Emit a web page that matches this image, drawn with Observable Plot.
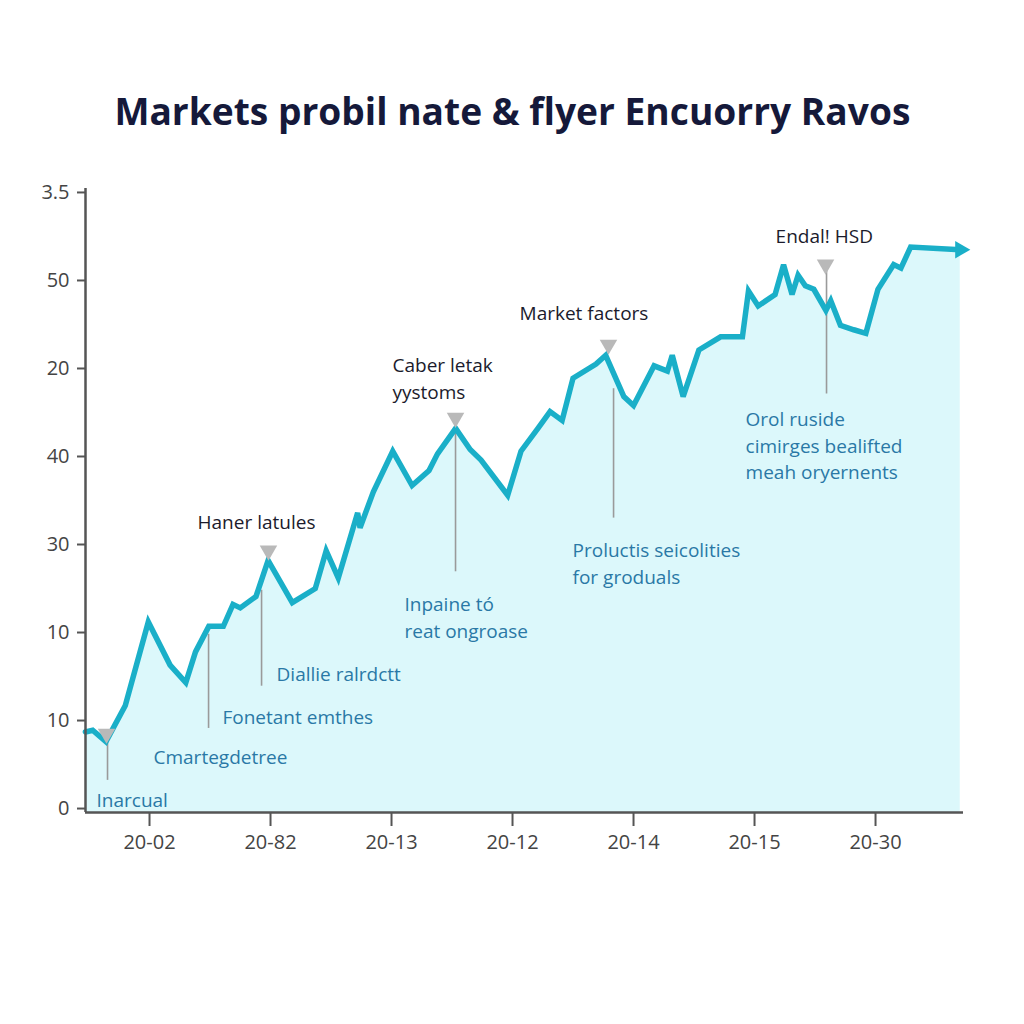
<!DOCTYPE html>
<html>
<head>
<meta charset="utf-8">
<script src="https://cdn.jsdelivr.net/npm/d3@7"></script>
<script src="https://cdn.jsdelivr.net/npm/@observablehq/plot@0.6"></script>
<style>
  html, body { margin: 0; padding: 0; background: #ffffff; }
  #wrap { width: 1024px; height: 1024px; position: relative; overflow: hidden; background: #fff; }
  #title { position: absolute; left: 0; top: 86px; width: 1024px; text-align: center;
    font-family: "Open Sans", "Noto Sans", sans-serif; font-weight: 700; font-size: 37px;
    color: #15193a; white-space: nowrap; line-height: 50px; }
  #title span { display: inline-block; transform-origin: center; }
  #chart { position: absolute; left: 0; top: 160px; }
</style>
</head>
<body>
<div id="wrap">
  <div id="title"><span id="tt">Markets probil nate &amp; flyer Encuorry Ravos</span></div>
  <div id="chart"></div>
</div>
<script>
// ---- data ----
const xTicks = [0, 10, 20, 30, 40, 50, 60];
const xLabels = ["20-02", "20-82", "20-13", "20-12", "20-14", "20-15", "20-30"];
const yTicks = [0, 1, 2, 3, 4, 5, 6, 7];
const yLabels = ["0", "10", "10", "30", "40", "20", "50", "3.5"];

const months = [-5.3, -4.7, -3.6, -2.0, -0.1, 1.7, 3.0, 3.8, 4.9, 6.1, 6.9, 7.5, 8.8, 9.8,
  11.8, 13.7, 14.6, 15.6, 17.2, 17.4, 18.5, 20.1, 21.7, 23.1, 23.8, 25.3, 26.5, 27.4, 29.6,
  30.7, 32.1, 33.1, 34.1, 35.0, 36.9, 37.7, 39.2, 40.0, 41.7, 42.8, 43.2, 44.1, 45.4, 47.2,
  49.0, 49.5, 50.3, 51.7, 52.4, 53.1, 53.6, 54.2, 54.9, 55.9, 56.3, 57.1, 58.2, 59.2, 60.2,
  61.5, 62.1, 62.9, 67.0];
const values = [0.87, 0.89, 0.76, 1.17, 2.12, 1.63, 1.43, 1.78, 2.07, 2.07, 2.32, 2.28, 2.41, 2.82,
  2.34, 2.50, 2.93, 2.62, 3.36, 3.19, 3.60, 4.06, 3.67, 3.84, 4.03, 4.32, 4.08, 3.96, 3.56,
  4.06, 4.32, 4.51, 4.41, 4.89, 5.05, 5.15, 4.68, 4.58, 5.03, 4.97, 5.15, 4.68, 5.21, 5.36,
  5.36, 5.88, 5.71, 5.84, 6.18, 5.84, 6.06, 5.94, 5.90, 5.66, 5.77, 5.49, 5.44, 5.40, 5.90,
  6.18, 6.14, 6.38, 6.35];

const markerX = [-3.55, 9.83, 25.29, 37.93, 55.87];
const markerY = [0.85, 2.93, 4.44, 5.27, 6.18];

const ruleXs = [-3.47, 4.88, 9.26, 25.29, 38.35, 55.95];
const ruleTop = [0.77, 1.98, 2.48, 4.32, 4.77, 6.21];
const ruleBottom = [0.32, 0.91, 1.39, 2.69, 3.30, 4.71];

const darkNotes = ["Endal! HSD", "Market factors", "Caber letak\nyystoms", "Haner latules"];
const darkX = [51.74, 30.58, 20.08, 3.97];
const darkY = [6.52, 5.65, 4.90, 3.27];

const blueNotes = ["Inpaine tó\nreat ongroase", "Proluctis seicolities\nfor groduals",
  "Orol ruside\ncimirges bealifted\nmeah oryernents", "Diallie ralrdctt", "Fonetant emthes",
  "Cmartegdetree", "Inarcual"];
const blueX = [21.07, 34.96, 49.26, 10.50, 6.03, 0.33, -4.38];
const blueY = [2.19, 2.80, 4.14, 1.545, 1.057, 0.602, 0.114];

// ---- tables ----
const series = months.map((m, i) => ({x: m, y: values[i]}));
const last = [series[series.length - 1]];
const markers = markerX.map((x, i) => ({x, y: markerY[i]}));
const rules = ruleXs.map((x, i) => ({x, y1: ruleBottom[i], y2: ruleTop[i]}));
const dark = darkNotes.map((t, i) => ({t, x: darkX[i], y: darkY[i]}));
const blue = blueNotes.map((t, i) => ({t, x: blueX[i], y: blueY[i]}));

const xMin = -5.29, xMax = 67.27, yMin = -0.045, yMax = 7.045;
const lineColor = "#1aafc8";

const chart = Plot.plot({
  width: 1024,
  height: 864,
  marginTop: 28,
  marginBottom: 212,
  marginLeft: 85,
  marginRight: 61,
  style: {fontFamily: "'Open Sans', 'Noto Sans', sans-serif", fontSize: "19px", color: "#444", background: "transparent"},
  x: {domain: [xMin, xMax], label: null},
  y: {domain: [yMin, yMax], label: null},
  marks: [
    Plot.areaY(series, {x: "x", y1: yMin, y2: "y", fill: "#dcf8fb", curve: "linear"}),
    Plot.ruleX(rules, {x: "x", y1: "y1", y2: "y2", stroke: "#9a9a9a", strokeWidth: 1.6}),
    Plot.line(series, {x: "x", y: "y", stroke: lineColor, strokeWidth: 5.5, strokeLinejoin: "miter", strokeMiterlimit: 3}),
    Plot.dot(last, {x: "x", y: "y", symbol: "triangle", rotate: 90, r: 6.5, fill: lineColor, stroke: "none"}),
    Plot.dot(markers, {x: "x", y: "y", symbol: "triangle", rotate: 180, r: 6.5, fill: "#b9b9b9", stroke: "none"}),
    Plot.text(dark, {x: "x", y: "y", text: "t", textAnchor: "start", lineAnchor: "middle", fontSize: 19, fill: "#1b1b2c", lineHeight: 1.42}),
    Plot.text(blue, {x: "x", y: "y", text: "t", textAnchor: "start", lineAnchor: "middle", fontSize: 19, fill: "#2a78a6", lineHeight: 1.4}),
    Plot.ruleX([xMin], {stroke: "#555", strokeWidth: 2.5}),
    Plot.ruleY([yMin], {stroke: "#555", strokeWidth: 2.5}),
    Plot.axisY({ticks: yTicks, tickFormat: (d) => yLabels[d], tickSize: 8, tickPadding: 8, stroke: "#555", strokeWidth: 2, fill: "#444", fontSize: 20, label: null}),
    Plot.axisX({ticks: xTicks, tickFormat: (d) => xLabels[xTicks.indexOf(d)], tickSize: 14, tickPadding: 8, stroke: "#555", strokeWidth: 2, fill: "#444", fontSize: 20, label: null})
  ]
});
document.getElementById("chart").appendChild(chart);

// fit title width to reference span (~796px)
const tt = document.getElementById("tt");
const w = tt.getBoundingClientRect().width;
if (w > 0) tt.style.transform = `scaleX(${796 / w})`;
</script>
</body>
</html>
